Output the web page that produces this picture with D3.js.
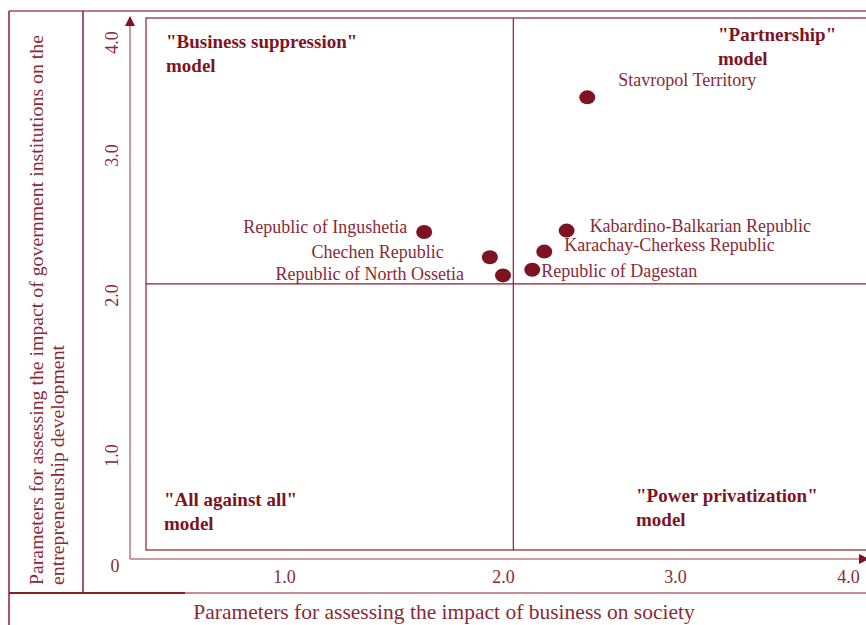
<!DOCTYPE html>
<html>
<head>
<meta charset="utf-8">
<script src="https://cdn.jsdelivr.net/npm/d3@7"></script>
<style>
  body { margin: 0; background: #fff; }
</style>
</head>
<body>
<svg id="chart" width="866" height="625"></svg>
<script>
// regions and their two assessment parameters
const regions = ["Stavropol Territory", "Republic of Ingushetia", "Chechen Republic",
    "Republic of North Ossetia", "Kabardino-Balkarian Republic", "Karachay-Cherkess Republic",
    "Republic of Dagestan"];
const businessImpact = [2.49, 1.64, 1.94, 2.00, 2.37, 2.24, 2.17];
const governmentImpact = [3.51, 2.45, 2.27, 2.14, 2.46, 2.31, 2.18];

const tickValues = [1, 2, 3, 4];
// quadrant split (x, y)
const splitX = 2.06;
const splitY = 2.08;

const quadrantTitles = ['"Business suppression"', '"Partnership"', '"All against all"', '"Power privatization"'];

const dark = "#7e1422";
const frame = "#8b1e2c";
const light = "#c07882";
const textCol = "#8a2a36";
const serif = "'Liberation Serif', 'DejaVu Serif', serif";

const svg = d3.select("#chart").attr("font-family", serif);

// the hand drawn axis is not evenly spaced, so the scales are piecewise
const x = d3.scaleLinear().domain([0, 1, 2, 3, 4]).range([130, 284, 503, 675, 848]);
const y = d3.scaleLinear().domain([0, 1, 2, 3, 4]).range([559, 455, 295, 155, 42]);

// table frame around the figure
svg.append("line").attr("x1", 9).attr("x2", 866).attr("y1", 11).attr("y2", 11)
    .attr("stroke", light).attr("stroke-width", 2);
svg.append("line").attr("x1", 9).attr("x2", 9).attr("y1", 11).attr("y2", 625)
    .attr("stroke", frame).attr("stroke-width", 1.5);
svg.append("line").attr("x1", 83).attr("x2", 83).attr("y1", 11).attr("y2", 593)
    .attr("stroke", frame).attr("stroke-width", 1.5);
svg.append("line").attr("x1", 9).attr("x2", 185).attr("y1", 593).attr("y2", 593)
    .attr("stroke", frame).attr("stroke-width", 2);
svg.append("line").attr("x1", 185).attr("x2", 866).attr("y1", 593).attr("y2", 593)
    .attr("stroke", frame).attr("stroke-width", 1.2);

// arrow marker
const defs = svg.append("defs");
defs.append("marker").attr("id", "arrow")
    .attr("viewBox", "0 0 10 10").attr("refX", 9).attr("refY", 5)
    .attr("markerWidth", 10).attr("markerHeight", 10).attr("markerUnits", "userSpaceOnUse")
    .attr("orient", "auto")
    .append("path").attr("d", "M0,0 L10,5 L0,10 Z").attr("fill", dark);

// axis lines with arrows
svg.append("line").attr("x1", x(0)).attr("x2", x(0)).attr("y1", y(0)).attr("y2", 17)
    .attr("stroke", light).attr("stroke-width", 1.5).attr("marker-end", "url(#arrow)");
svg.append("line").attr("x1", x(0)).attr("x2", 868).attr("y1", y(0)).attr("y2", y(0))
    .attr("stroke", light).attr("stroke-width", 1.5).attr("marker-end", "url(#arrow)");

// inner box
svg.append("rect").attr("x", 146).attr("y", 18).attr("width", 740).attr("height", 532)
    .attr("fill", "none").attr("stroke", frame).attr("stroke-width", 1.2);

// quadrant dividers
svg.append("line").attr("x1", x(splitX)).attr("x2", x(splitX)).attr("y1", 18).attr("y2", 550)
    .attr("stroke", frame).attr("stroke-width", 1.2);
svg.append("line").attr("x1", 146).attr("x2", 866).attr("y1", y(splitY)).attr("y2", y(splitY))
    .attr("stroke", frame).attr("stroke-width", 1.2);

// x axis ticks
const xAxis = svg.append("g").attr("transform", `translate(0,${y(0)})`)
    .call(d3.axisBottom(x).tickValues(tickValues).tickFormat(d3.format(".1f")).tickSize(0).tickPadding(11));
xAxis.select(".domain").remove();
xAxis.attr("font-family", serif).attr("font-size", 18);
xAxis.selectAll("text").attr("fill", textCol);

// y axis ticks, rotated
const yAxis = svg.append("g").attr("transform", `translate(${x(0)},0)`)
    .call(d3.axisLeft(y).tickValues(tickValues).tickFormat(d3.format(".1f")).tickSize(0));
yAxis.select(".domain").remove();
yAxis.attr("font-family", serif).attr("font-size", 18);
yAxis.selectAll("text")
    .attr("x", 0).attr("y", 0).attr("dy", 0)
    .attr("text-anchor", "middle")
    .attr("transform", "translate(-12,0) rotate(-90)")
    .attr("fill", textCol);

svg.append("text").attr("x", 115).attr("y", 572).attr("text-anchor", "middle")
    .attr("fill", textCol).attr("font-size", 18).text("0");

// axis titles
svg.append("text").attr("x", 444).attr("y", 619).attr("text-anchor", "middle")
    .attr("fill", textCol).attr("font-size", 21.5)
    .text("Parameters for assessing the impact of business on society");

const yTitle = svg.append("text").attr("transform", "translate(43,585) rotate(-90)")
    .attr("fill", textCol).attr("font-size", 19.8);
yTitle.append("tspan").attr("x", 0).attr("y", 0)
    .text("Parameters  for assessing the impact of government institutions on the");
yTitle.append("tspan").attr("x", 0).attr("y", 21)
    .text("entrepreneurship development");

// quadrant titles
const qPos = [[166, 48], [718, 41], [164, 506], [636, 502]];
quadrantTitles.forEach((t, i) => {
    const g = svg.append("text").attr("fill", dark).attr("font-weight", "bold").attr("font-size", 19);
    g.append("tspan").attr("x", qPos[i][0]).attr("y", qPos[i][1]).text(t);
    g.append("tspan").attr("x", qPos[i][0]).attr("y", qPos[i][1] + 24).text("model");
});

// points
const points = regions.map((r, i) => ({name: r, bx: businessImpact[i], gy: governmentImpact[i]}));

svg.append("g").selectAll("ellipse")
    .data(points)
    .join("ellipse")
    .attr("cx", d => x(d.bx))
    .attr("cy", d => y(d.gy))
    .attr("rx", 8)
    .attr("ry", 7)
    .attr("fill", dark);

// label offsets relative to their point
const labelOffsets = {
    "Stavropol Territory": [31, -11, "start"],
    "Republic of Ingushetia": [-17, 1, "end"],
    "Chechen Republic": [-46, 1, "end"],
    "Republic of North Ossetia": [-39, 5, "end"],
    "Kabardino-Balkarian Republic": [23, 1, "start"],
    "Karachay-Cherkess Republic": [20, -1, "start"],
    "Republic of Dagestan": [9, 7, "start"]
};

svg.append("g").selectAll("text")
    .data(points)
    .join("text")
    .attr("x", d => x(d.bx) + labelOffsets[d.name][0])
    .attr("y", d => y(d.gy) + labelOffsets[d.name][1])
    .attr("text-anchor", d => labelOffsets[d.name][2])
    .attr("fill", textCol)
    .attr("font-size", 18)
    .text(d => d.name);
</script>
</body>
</html>
